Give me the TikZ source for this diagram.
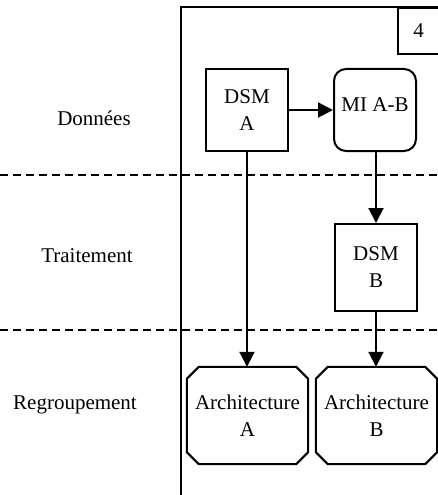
\documentclass[tikz,border=0pt]{standalone}
\usepackage{fontspec}
\setmainfont{Liberation Serif}
\usetikzlibrary{arrows.meta}
\begin{document}
\begin{tikzpicture}[x=1pt,y=-1pt,
  every node/.style={font=\fontsize{21}{27}\selectfont, align=center},
  frame/.style={line width=2pt},
  sep/.style={line width=1.8pt, dash pattern=on 8pt off 5pt},
  stepbox/.style={draw, line width=2pt, inner sep=0pt, minimum width=82pt},
  roundbox/.style={stepbox, rounded corners=12pt},
  archbox/.style={inner sep=0pt, minimum width=121pt, minimum height=97pt},
  chamfer/.style={line width=2pt, line join=miter},
  flow/.style={line width=2pt, -{Triangle[length=15pt,width=15pt]}},
  lane/.style={anchor=center}]
\useasboundingbox (0,0) rectangle (438,495);

% swimlane frame
\coordinate (ftop) at (181,7);
\coordinate (fbot) at (181,497);
\coordinate (fright) at (440,7);
\draw[frame] (fbot) -- (ftop) -- (fright);
\node[draw, line width=2pt, minimum width=41pt, minimum height=46pt, inner sep=0pt, anchor=north east] (num) at (440,7) {4};

% lane separators
\coordinate (s1l) at (0,175);  \coordinate (s1r) at (438,175);
\coordinate (s2l) at (0,330);  \coordinate (s2r) at (438,330);
\draw[sep] (s1l) -- (s1r);
\draw[sep] (s2l) -- (s2r);

% lane titles
\node[lane] (ldon) at (94,118) {Données};
\node[lane] (ltra) at (87,256) {Traitement};
\node[lane] (lreg) at (75,405) {Regroupement};

% process boxes
\node[stepbox, minimum height=82pt] (dsma) at (247,110) {DSM\\A};
\node[roundbox, minimum height=82pt, text height=14pt, text depth=12pt] (miab) at (375,110) {MI A-B};
\node[stepbox, minimum height=87pt] (dsmb) at (376,267.5) {DSM\\B};
\node[archbox] (arca) at (247.5,415.5) {Architecture\\A};
\node[archbox] (arcb) at (376.5,415.5) {Architecture\\B};

% chamfered outlines of the result boxes
\foreach \n in {arca,arcb}{
  \draw[chamfer] ([xshift=12pt]\n.north west) -- ([xshift=-12pt]\n.north east)
    -- ([yshift=-12pt]\n.north east) -- ([yshift=12pt]\n.south east)
    -- ([xshift=-12pt]\n.south east) -- ([xshift=12pt]\n.south west)
    -- ([yshift=12pt]\n.south west) -- ([yshift=-12pt]\n.north west) -- cycle;
}

% connectors
\draw[flow] (dsma.east) -- (miab.west);
\draw[flow] (miab.south -| dsmb.north) -- (dsmb.north);
\draw[flow] (dsma.south) -- (dsma.south |- arca.north);
\draw[flow] (dsmb.south) -- (dsmb.south |- arcb.north);
\end{tikzpicture}
\end{document}
